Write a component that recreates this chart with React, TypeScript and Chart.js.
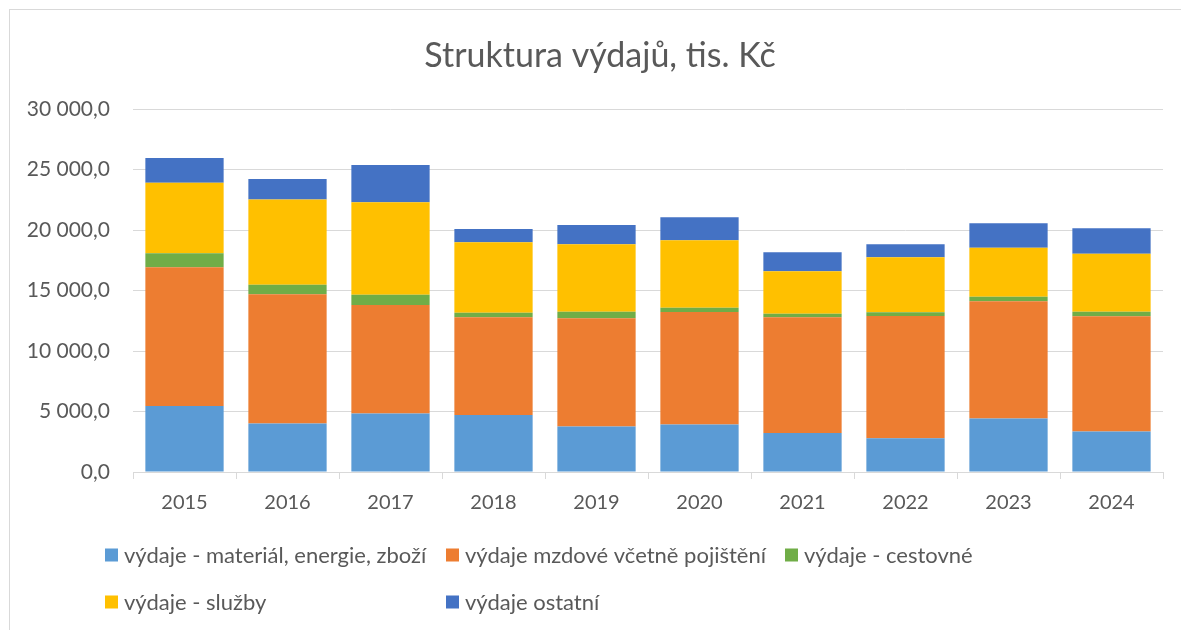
import React, { useEffect, useRef } from "react";
import { Chart, registerables } from "chart.js";

Chart.register(...registerables);

const categories = ["2015", "2016", "2017", "2018", "2019", "2020", "2021", "2022", "2023", "2024"];
const material = [5464, 4007, 4834, 4719, 3758, 3924, 3228, 2790, 4421, 3344];
const mzdy = [11457, 10678, 8966, 8062, 8941, 9296, 9553, 10099, 9685, 9520];
const cestovne = [1158, 795, 852, 381, 546, 356, 298, 306, 381, 381];
const sluzby = [5820, 7037, 7649, 5828, 5580, 5580, 3510, 4553, 4056, 4801];
const ostatni = [2045, 1688, 3063, 1101, 1597, 1904, 1573, 1077, 2020, 2103];

const seriesNames = [
  "výdaje - materiál, energie, zboží",
  "výdaje mzdové včetně pojištění",
  "výdaje - cestovné",
  "výdaje - služby",
  "výdaje ostatní",
];
const seriesColors = ["#5B9BD5", "#ED7D31", "#70AD47", "#FFC000", "#4472C4"];
const seriesValues = [material, mzdy, cestovne, sluzby, ostatni];

const titleText = "Struktura výdajů, tis. Kč";
const FONT = "Lato";
const TEXT_COLOR = "#595959";

function formatCz(v: number): string {
  const [intPart, dec] = Number(v).toFixed(1).split(".");
  const withSpaces = intPart.replace(/\B(?=(\d{3})+(?!\d))/g, " ");
  return withSpaces + "," + dec;
}

const titleAndLegendPlugin = {
  id: "titleAndLegend",
  afterDraw(chart: any) {
    const ctx = chart.ctx as CanvasRenderingContext2D;
    ctx.save();
    // title
    ctx.font = `34px ${FONT}`;
    ctx.fillStyle = TEXT_COLOR;
    ctx.textAlign = "center";
    ctx.textBaseline = "middle";
    ctx.fillText(titleText, 600, 56);

    // legend in Excel-like grid
    const cols = [105, 446, 785];
    const rows = [555, 602];
    const box = 13;
    ctx.font = `22px ${FONT}`;
    ctx.textAlign = "left";
    chart.data.datasets.forEach((ds: any, i: number) => {
      const col = i % 3;
      const row = Math.floor(i / 3);
      const x = cols[col];
      const y = rows[row];
      ctx.fillStyle = ds.backgroundColor;
      ctx.fillRect(x, y - box / 2, box, box);
      ctx.fillStyle = TEXT_COLOR;
      ctx.fillText(ds.label, x + box + 6, y + 1);
    });
    ctx.restore();
  },
};

export default function App() {
  const canvasRef = useRef<HTMLCanvasElement | null>(null);

  useEffect(() => {
    if (!canvasRef.current) return;
    const chart = new Chart(canvasRef.current, {
      type: "bar",
      data: {
        labels: categories,
        datasets: seriesValues.map((vals, i) => ({
          label: seriesNames[i],
          data: vals,
          backgroundColor: seriesColors[i],
          borderWidth: 0,
          barPercentage: 0.76,
          categoryPercentage: 1,
        })),
      },
      options: {
        responsive: false,
        animation: false,
        devicePixelRatio: 1,
        layout: { padding: { left: 0, right: 18, top: 109, bottom: 103 } },
        plugins: {
          legend: { display: false },
          tooltip: { enabled: false },
          title: { display: false },
        },
        scales: {
          x: {
            stacked: true,
            grid: {
              display: true,
              drawOnChartArea: false,
              drawTicks: true,
              tickLength: 7,
              color: "#d9d9d9",
            },
            border: { display: true, color: "#d9d9d9", width: 1 },
            ticks: {
              color: TEXT_COLOR,
              font: { family: FONT, size: 20 },
              padding: 12,
              maxRotation: 0,
            },
          },
          y: {
            stacked: true,
            min: 0,
            max: 30000,
            afterFit(scale: any) {
              scale.width = 133;
            },
            grid: { color: "#d9d9d9", lineWidth: 1, drawTicks: false },
            border: { display: false },
            ticks: {
              stepSize: 5000,
              padding: 23,
              color: TEXT_COLOR,
              font: { family: FONT, size: 21 },
              callback: (v: any) => formatCz(Number(v)),
            },
          },
        },
      },
      plugins: [titleAndLegendPlugin],
    });
    return () => chart.destroy();
  }, []);

  return (
    <div style={{ position: "fixed", left: 0, top: 0, width: 1181, height: 630, background: "#fff", overflow: "hidden" }}>
      <div
        style={{
          position: "absolute",
          left: 9,
          top: 9,
          width: 1190,
          height: 640,
          border: "1px solid #d9d9d9",
          boxSizing: "border-box",
        }}
      />
      <canvas ref={canvasRef} width={1181} height={630} style={{ position: "absolute", left: 0, top: 0 }} />
    </div>
  );
}
